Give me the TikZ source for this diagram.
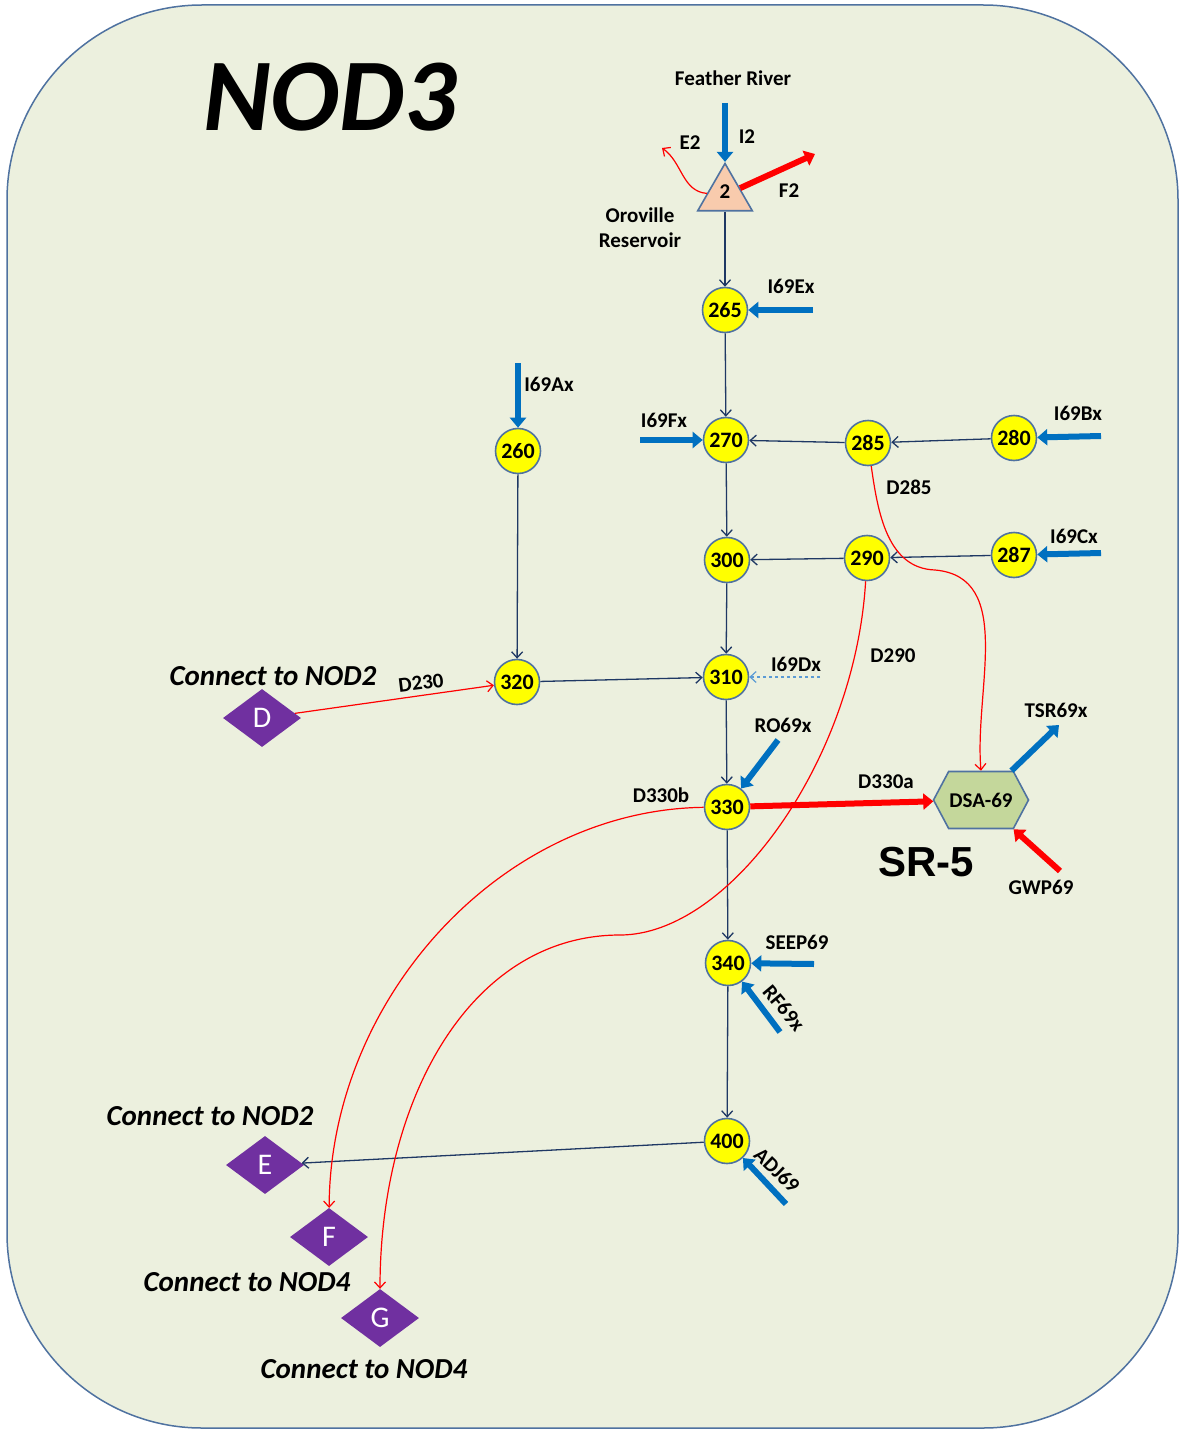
\documentclass[tikz,border=0pt]{standalone}
\usepackage{fontspec}
\setmainfont{Carlito}
\newfontfamily\srfont{Liberation Sans}
\usetikzlibrary{arrows.meta,shapes.geometric,shapes.symbols}

\definecolor{panel}{RGB}{236,240,222}
\definecolor{rim}{RGB}{79,114,160}
\definecolor{link}{RGB}{31,56,100}
\definecolor{inflow}{RGB}{0,112,192}
\definecolor{seep}{RGB}{91,155,213}
\definecolor{divert}{RGB}{255,0,0}
\definecolor{junct}{RGB}{255,255,0}
\definecolor{pipe}{RGB}{112,48,160}
\definecolor{sink}{RGB}{196,215,155}
\definecolor{res}{RGB}{248,203,173}

\tikzset{
  junction/.style={circle,draw=rim,fill=junct,line width=1.6pt,minimum size=45pt,
    inner sep=0pt,font=\fontsize{22}{22}\selectfont\bfseries},
  tag/.style={font=\fontsize{21}{21}\selectfont\bfseries,inner sep=0pt},
  hook/.style={diamond,fill=pipe,text=white,minimum width=78pt,minimum height=58pt,
    inner sep=0pt,font=\fontsize{30}{30}\selectfont},
  hookname/.style={font=\fontsize{29}{29}\selectfont\bfseries\itshape,inner sep=0pt},
  flow/.style={link,line width=1.3pt,-{Straight Barb[length=6pt,width=11pt]}},
  div/.style={divert,line width=1.2pt,-{Straight Barb[length=6pt,width=11pt]}},
  feed/.style={inflow,line width=6pt,-{Triangle[length=10pt,width=16pt]}},
  bigdiv/.style={divert,line width=6pt,-{Triangle[length=10pt,width=16pt]}},
}

\begin{document}
\begin{tikzpicture}[x=1pt,y=-1pt]
  \useasboundingbox (0,0) rectangle (1180,1431);
  \draw[rim,fill=panel,line width=1.5pt,rounded corners=195pt] (7,5) rectangle (1178,1428);

  \node[font=\fontsize{103}{103}\selectfont\bfseries\itshape] (title) at (330,97) {NOD3};

  % reservoir and junctions
  \node[regular polygon,regular polygon sides=3,draw=rim,fill=res,line width=1.6pt,
    minimum size=63pt,inner sep=0pt] (n2) at (725,195) {};
  \node[tag] (n2lbl) at (725,192) {2};
  \node[junction] (n265) at (725,310) {265};
  \node[junction] (n270) at (726,440) {270};
  \node[junction] (n285) at (868,443) {285};
  \node[junction] (n280) at (1014,438) {280};
  \node[junction] (n300) at (727,560) {300};
  \node[junction] (n290) at (867,558) {290};
  \node[junction] (n287) at (1014,555) {287};
  \node[junction] (n260) at (518,451) {260};
  \node[junction] (n320) at (517,682) {320};
  \node[junction] (n310) at (726,677) {310};
  \node[junction] (n330) at (727,807) {330};
  \node[junction] (n340) at (728,963) {340};
  \node[junction] (n400) at (727,1141) {400};
  \node[signal,signal to=west and east,signal pointer angle=124,draw=rim,fill=sink,
    line width=1.6pt,minimum width=95pt,minimum height=57pt,inner sep=0pt,
    font=\fontsize{21}{21}\selectfont\bfseries] (dsa) at (981,800) {DSA-69};

  % links to the other networks
  \node[hook] (hD) at (262,718) {D};
  \node[hook] (hE) at (265,1165) {E};
  \node[hook] (hF) at (329,1237) {F};
  \node[hook] (hG) at (380,1318) {G};
  \node[hookname] (cD) at (273,676) {Connect to NOD2};
  \node[hookname] (cE) at (210,1116) {Connect to NOD2};
  \node[hookname] (cF) at (247,1282) {Connect to NOD4};
  \node[hookname] (cG) at (364,1369) {Connect to NOD4};

  % free ends of the inflows and outflows
  \coordinate (fI2) at (725,103);
  \coordinate (fE) at (813,310);
  \coordinate (fF) at (640,440);
  \coordinate (fB) at (1101,436);
  \coordinate (fC) at (1101,553);
  \coordinate (fA) at (518,363);
  \coordinate (fD) at (820,677);
  \coordinate (fRO) at (778,740);
  \coordinate (fSEEP) at (814,964);
  \coordinate (fRF) at (780,1032);
  \coordinate (fADJ) at (786,1204);
  \coordinate (tTSR) at (1059,725);
  \coordinate (gGWP) at (1060,871);
  \coordinate (tF2) at (815,154);
  \coordinate (tE2) at (662,148);
  \coordinate (bend285) at (935,570);
  \coordinate (bend290) at (620,935);

  % channel links
  \begin{scope}[flow]
    \draw (n2) -- (n265);
    \draw (n265) -- (n270);
    \draw (n285) -- (n270);
    \draw (n280) -- (n285);
    \draw (n270) -- (n300);
    \draw (n290) -- (n300);
    \draw (n287) -- (n290);
    \draw (n300) -- (n310);
    \draw (n260) -- (n320);
    \draw (n320) -- (n310);
    \draw (n310) -- (n330);
    \draw (n330) -- (n340);
    \draw (n340) -- (n400);
    \draw (n400) -- (hE);
  \end{scope}
  \draw[seep,dashed,line width=1.2pt,-{Straight Barb[length=6pt,width=11pt]}] (fD) -- (n310);

  % inflows
  \begin{scope}[feed]
    \draw (fI2) -- (n2);
    \draw (fE) -- (n265);
    \draw (fF) -- (n270);
    \draw (fB) -- (n280);
    \draw (fC) -- (n287);
    \draw (fA) -- (n260);
    \draw (fRO) -- (n330);
    \draw (fSEEP) -- (n340);
    \draw (fRF) -- (n340);
    \draw (fADJ) -- (n400);
    \draw (dsa) -- (tTSR);
  \end{scope}
  \draw[bigdiv] (n2) -- (tF2);
  \draw[bigdiv] (n330) -- (dsa);
  \draw[bigdiv] (gGWP) -- (dsa);

  % diversions
  \draw[div] (n2) to[out=175,in=-35] (tE2);
  \draw[div] (n285) to[out=-82,in=178] (bend285) to[out=-5,in=95] (dsa.north);
  \draw[div] (n290) .. controls (855,760) and (730,935) .. (bend290)
                    .. controls (470,935) and (380,1100) .. (hG);
  \draw[div] (n330) .. controls (500,810) and (330,1000) .. (hF);
  \draw[div] (hD) -- (n320);

  % labels
  \node[tag] (lFR) at (733,78) {Feather River};
  \node[tag] (lI2) at (747,137) {I2};
  \node[tag] (lE2) at (690,143) {E2};
  \node[tag] (lF2) at (789,191) {F2};
  \node[tag,align=center] (lORO) at (640,228) {Oroville\\[4pt]Reservoir};
  \node[tag] (lE) at (791,286) {I69Ex};
  \node[tag] (lF) at (664,420) {I69Fx};
  \node[tag] (lB) at (1078,413) {I69Bx};
  \node[tag] (lC) at (1074,536) {I69Cx};
  \node[tag] (l285) at (909,487) {D285};
  \node[tag] (lA) at (549,384) {I69Ax};
  \node[tag] (l290) at (893,656) {D290};
  \node[tag] (lD) at (796,664) {I69Dx};
  \node[tag] (lRO) at (783,725) {RO69x};
  \node[tag] (lTSR) at (1056,710) {TSR69x};
  \node[tag] (l330a) at (886,782) {D330a};
  \node[tag] (l330b) at (661,795) {D330b};
  \node[font=\fontsize{42}{42}\selectfont\bfseries\srfont,inner sep=0pt] (sr) at (926,862) {SR-5};
  \node[tag] (lGWP) at (1041,887) {GWP69};
  \node[tag] (lSEEP) at (797,942) {SEEP69};
  \node[tag,rotate=-50] (lRF) at (784,1008) {RF69x};
  \node[tag,rotate=-44] (lADJ) at (777,1170) {ADJ69};
  \node[tag,rotate=7] (l230) at (421,683) {D230};
\end{tikzpicture}
\end{document}
